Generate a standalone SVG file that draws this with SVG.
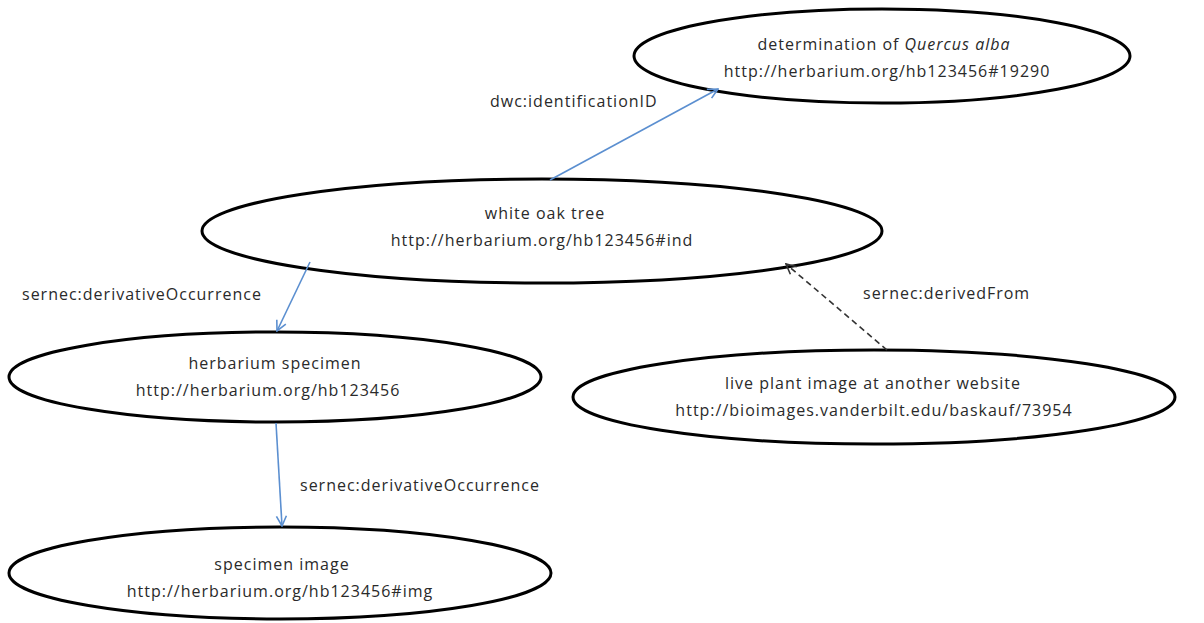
<svg xmlns="http://www.w3.org/2000/svg" width="1204" height="623" viewBox="0 0 1204 623">
<style>
.node ellipse{fill:#fff;stroke:#000;stroke-width:3}
text{font-family:"Open Sans","Liberation Sans",Arial,sans-serif;font-size:16px;letter-spacing:1px;fill:#2a2a2a;text-anchor:middle}
.lbl{text-anchor:start}
.edge{stroke:#5b8fd0;stroke-width:1.6;fill:none;marker-end:url(#ab)}
.dash{stroke:#333;stroke-width:1.6;fill:none;stroke-dasharray:6,4;marker-end:url(#ad)}
</style>
<defs>
<marker id="ab" viewBox="0 0 12 12" refX="11" refY="6" markerWidth="12" markerHeight="12" markerUnits="userSpaceOnUse" orient="auto"><path d="M1,1 L11,6 L1,11" fill="none" stroke="#5b8fd0" stroke-width="1.6"/></marker>
<marker id="ad" viewBox="0 0 12 12" refX="11" refY="6" markerWidth="12" markerHeight="12" markerUnits="userSpaceOnUse" orient="auto"><path d="M1,1 L11,6 L1,11" fill="none" stroke="#333" stroke-width="1.6"/></marker>
</defs>
<rect width="1204" height="623" fill="#fff"/>
<g id="determination" class="node">
<ellipse cx="882" cy="56" rx="248" ry="47"/>
<text x="884" y="50">determination of <tspan font-style="italic">Quercus alba</tspan></text>
<text x="887" y="77">http://herbarium.org/hb123456#19290</text>
</g>
<g id="whiteOak" class="node">
<ellipse cx="542" cy="231" rx="340" ry="52"/>
<text x="545" y="219">white oak tree</text>
<text x="542" y="246">http://herbarium.org/hb123456#ind</text>
</g>
<g id="specimen" class="node">
<ellipse cx="275" cy="377" rx="266" ry="45"/>
<text x="275" y="369">herbarium specimen</text>
<text x="268" y="396">http://herbarium.org/hb123456</text>
</g>
<g id="livePlant" class="node">
<ellipse cx="874" cy="397" rx="301" ry="47"/>
<text x="873" y="389">live plant image at another website</text>
<text x="874" y="416">http://bioimages.vanderbilt.edu/baskauf/73954</text>
</g>
<g id="specimenImage" class="node">
<ellipse cx="280" cy="573" rx="271" ry="46"/>
<text x="282" y="570">specimen image</text>
<text x="280" y="597">http://herbarium.org/hb123456#img</text>
</g>
<g id="connectors">
<line class="edge" x1="550" y1="180" x2="718" y2="89"/>
<line class="edge" x1="310" y1="262" x2="277" y2="331"/>
<line class="edge" x1="276" y1="423" x2="282" y2="526"/>
<line class="dash" x1="887" y1="350" x2="786" y2="264"/>
<text class="lbl" x="490" y="107">dwc:identificationID</text>
<text class="lbl" x="22" y="300">sernec:derivativeOccurrence</text>
<text class="lbl" x="863" y="299">sernec:derivedFrom</text>
<text class="lbl" x="300" y="491">sernec:derivativeOccurrence</text>
</g>
</svg>
